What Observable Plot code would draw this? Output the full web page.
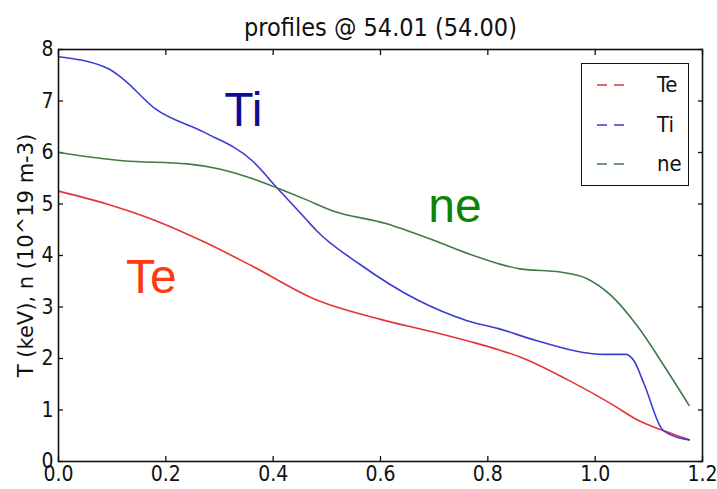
<!DOCTYPE html>
<html>
<head>
<meta charset="utf-8">
<script src="https://cdn.jsdelivr.net/npm/d3@7"></script>
<script src="https://cdn.jsdelivr.net/npm/@observablehq/plot@0.6"></script>
<style>
  body { margin: 0; background: white; }
  #wrap { position: relative; width: 717px; height: 489px; }
  #legend { position: absolute; left: 581px; top: 63px; width: 106px; height: 121px;
    border: 1.5px solid #111; background: white; font-family: "DejaVu Sans Condensed", "DejaVu Sans", sans-serif; font-size: 22px; }
  .row { position: absolute; left: 0; width: 106px; height: 30px; }
  .row svg { position: absolute; left: 15px; top: 9px; }
  .row span { position: absolute; left: 75px; top: 0; line-height: 30px; color: #111; }
</style>
</head>
<body>
<div id="wrap"></div>
<script>
const title = "profiles @ 54.01 (54.00)";
const yLabel = "T (keV), n (10^19 m-3)";
const xTicks = [0, 0.2, 0.4, 0.6, 0.8, 1.0, 1.2];
const yTicks = [0, 1, 2, 3, 4, 5, 6, 7, 8];

const seriesNames = ["Te", "Ti", "ne"];
const seriesColors = ["#e33535", "#3c3cd4", "#3f7a45"];

const teX = [0, 0.09, 0.18, 0.27, 0.36, 0.48, 0.60, 0.70, 0.77, 0.82, 0.86, 0.95, 1.03, 1.08, 1.127, 1.175];
const teY = [5.25, 5.00, 4.68, 4.27, 3.80, 3.14, 2.76, 2.51, 2.32, 2.17, 2.03, 1.58, 1.12, 0.80, 0.60, 0.42];

const tiX = [0, 0.094, 0.12, 0.18, 0.27, 0.36, 0.41, 0.46, 0.48, 0.56, 0.67, 0.76, 0.82, 0.89, 1.017, 1.057, 1.072, 1.091, 1.127, 1.175];
const tiY = [7.86, 7.62, 7.43, 6.85, 6.40, 5.85, 5.28, 4.72, 4.49, 3.84, 3.13, 2.74, 2.58, 2.35, 2.08, 2.08, 1.96, 1.51, 0.60, 0.42];

const neX = [0, 0.12, 0.24, 0.30, 0.37, 0.41, 0.46, 0.51, 0.61, 0.70, 0.765, 0.82, 0.86, 0.935, 0.985, 1.03, 1.08, 1.13, 1.175];
const neY = [6.00, 5.84, 5.78, 5.68, 5.46, 5.30, 5.09, 4.87, 4.62, 4.29, 4.03, 3.84, 3.74, 3.68, 3.55, 3.22, 2.61, 1.83, 1.09];

const noteText = ["Ti", "ne", "Te"];
const noteX = [0.309, 0.689, 0.126];
const noteY = [6.52, 4.65, 3.28];
const noteColors = ["#0c0c98", "#0a850a", "#ff3a12"];

const toRows = (xs, ys) => xs.map((x, i) => ({x, y: ys[i]}));
const te = toRows(teX, teY), ti = toRows(tiX, tiY), ne = toRows(neX, neY);
const notes = noteText.map((t, i) => ({t, x: noteX[i], y: noteY[i], c: noteColors[i]}));

const font = "'DejaVu Sans Condensed', 'DejaVu Sans', sans-serif";
const blank = () => "";

const chart = Plot.plot({
  width: 717, height: 489,
  marginLeft: 58, marginRight: 15, marginTop: 49, marginBottom: 28,
  x: {domain: [0, 1.2]},
  y: {domain: [0, 8]},
  style: {fontFamily: font, fontSize: "20px", background: "white", color: "#111"},
  marks: [
    Plot.axisX(xTicks, {anchor: "bottom", tickSize: 0, tickPadding: 5, tickFormat: d3.format(".1f"), label: null, fontSize: 21}),
    Plot.axisX(xTicks, {anchor: "bottom", tickSize: -5, tickFormat: blank, label: null, strokeWidth: 1.3}),
    Plot.axisX(xTicks, {anchor: "top", tickSize: -5, tickFormat: blank, label: null, strokeWidth: 1.3}),
    Plot.axisY(yTicks, {anchor: "left", tickSize: 0, tickPadding: 5, tickFormat: d3.format("d"), label: null, fontSize: 21}),
    Plot.axisY(yTicks, {anchor: "left", tickSize: -5, tickFormat: blank, label: null, strokeWidth: 1.3}),
    Plot.axisY(yTicks, {anchor: "right", tickSize: -5, tickFormat: blank, label: null, strokeWidth: 1.3}),
    Plot.line(te, {x: "x", y: "y", stroke: seriesColors[0], strokeWidth: 1.6, curve: "monotone-x"}),
    Plot.line(ti, {x: "x", y: "y", stroke: seriesColors[1], strokeWidth: 1.6, curve: "monotone-x"}),
    Plot.line(ne, {x: "x", y: "y", stroke: seriesColors[2], strokeWidth: 1.6, curve: "monotone-x"}),
    Plot.text(notes, {x: "x", y: "y", text: "t", fill: "c", textAnchor: "start", lineAnchor: "bottom",
      fontSize: 48, fontFamily: "'Liberation Sans', Arial, sans-serif"}),
    Plot.frame({stroke: "#111", strokeWidth: 1.6}),
    Plot.text([title], {frameAnchor: "top", dy: -14, lineAnchor: "bottom", fontSize: 25}),
    Plot.text([yLabel], {frameAnchor: "left", dx: -26, rotate: -90, textAnchor: "middle", lineAnchor: "bottom",
      fontSize: 21, fontFamily: "'DejaVu Sans', sans-serif"})
  ]
});
document.getElementById("wrap").appendChild(chart);

// legend
const legend = document.createElement("div");
legend.id = "legend";
seriesNames.forEach((name, i) => {
  const row = document.createElement("div");
  row.className = "row";
  row.style.top = (6 + i * 39.5) + "px";
  row.innerHTML = `<svg width="32" height="12"><line x1="0" y1="6" x2="32" y2="6" stroke="${seriesColors[i]}" stroke-width="1.6" stroke-dasharray="10,7"/></svg><span>${name}</span>`;
  legend.appendChild(row);
});
document.getElementById("wrap").appendChild(legend);
</script>
</body>
</html>
